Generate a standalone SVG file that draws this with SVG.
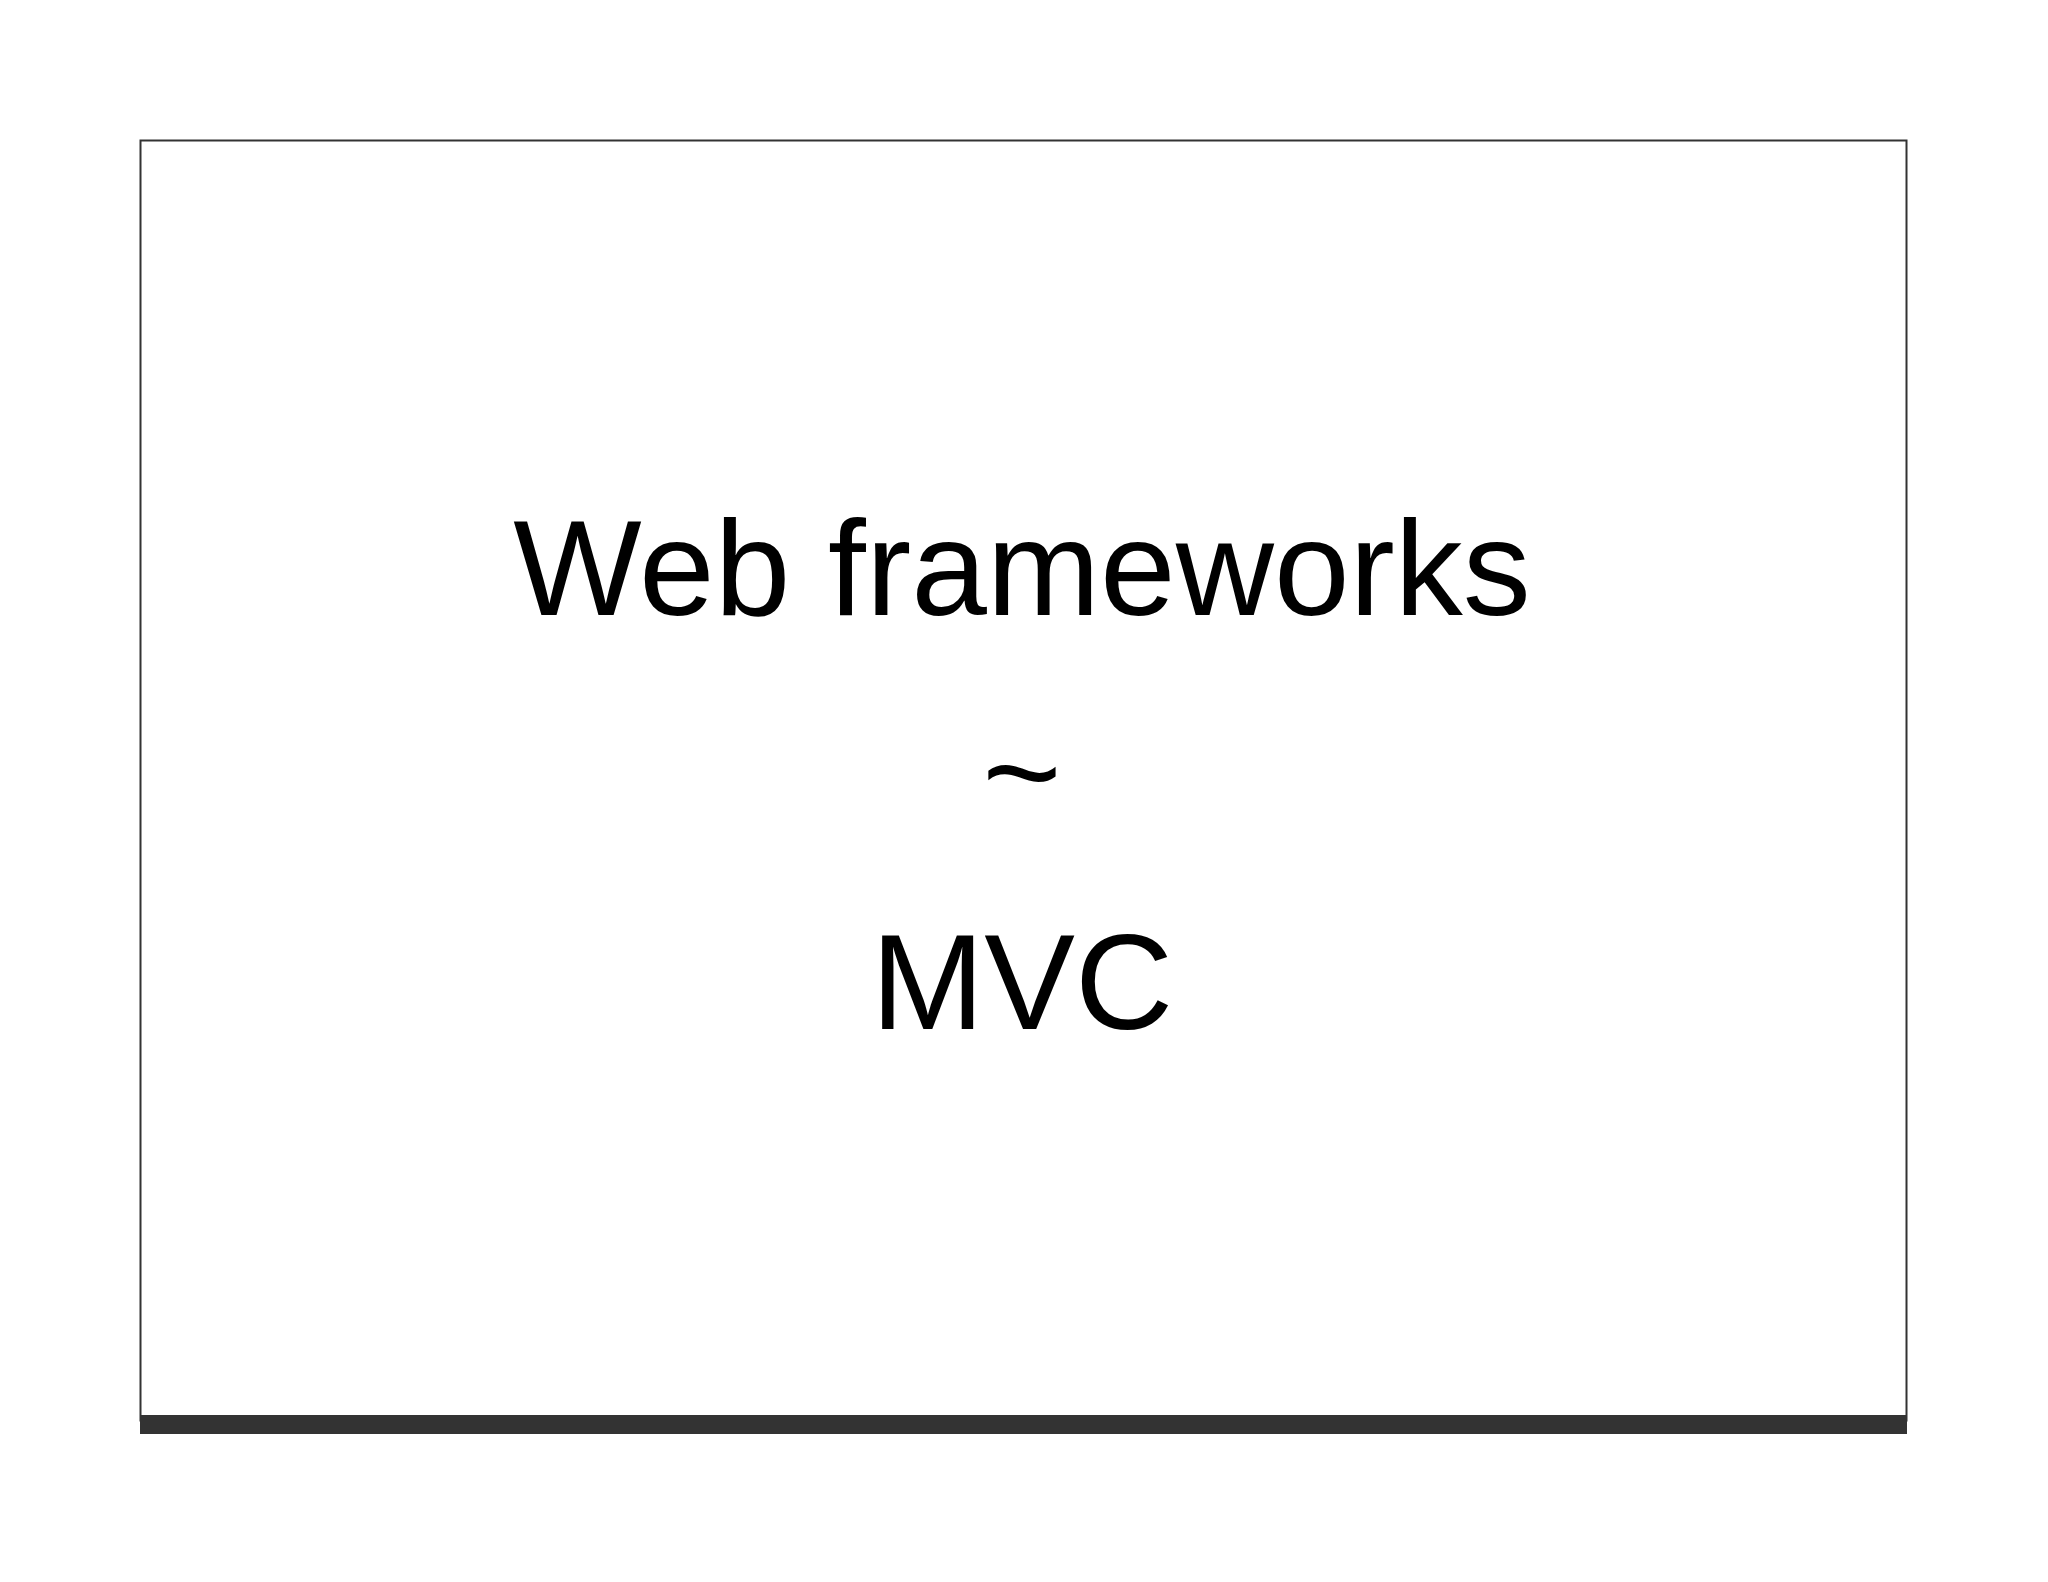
<svg xmlns="http://www.w3.org/2000/svg" width="2048" height="1582" viewBox="0 0 2048 1582">
<style>.t{font-family:"Liberation Sans",Arial,sans-serif;font-size:136px;fill:#000;text-anchor:middle}</style>
<rect width="2048" height="1582" fill="#fff"/>
<g id="slide">
<rect x="140.5" y="140.5" width="1766" height="1280" fill="#fff" stroke="#333" stroke-width="2"/>
<rect x="140" y="1415" width="1767" height="19" fill="#333"/>
</g>
<g id="title">
<text class="t" x="1022" y="615">Web frameworks</text>
<text class="t" x="1022" y="819">~</text>
<text class="t" x="1022" y="1029">MVC</text>
</g>
</svg>
